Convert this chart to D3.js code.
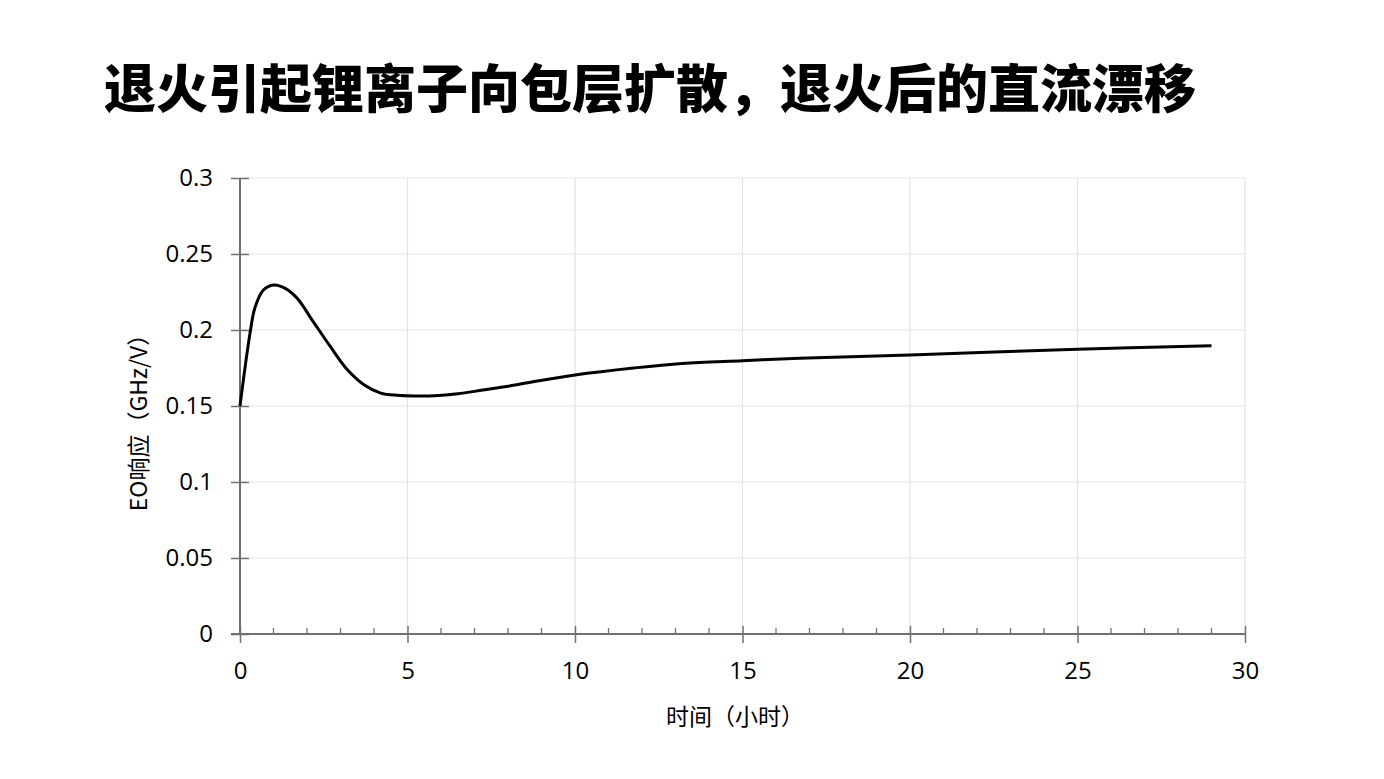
<!DOCTYPE html>
<html><head><meta charset="utf-8">
<script src="https://cdn.jsdelivr.net/npm/d3@7"></script>
<style>
html,body{margin:0;padding:0;background:#fff;}
svg{display:block;}
</style></head>
<body>
<svg id="chart" width="1384" height="779"></svg>
<script>
const title = "退火引起锂离子向包层扩散，退火后的直流漂移";
const xLabel = "时间（小时）";
const yLabel = "EO响应（GHz/V）";
const times = [0, 0.3, 0.45, 0.7, 1.0, 1.35, 1.7, 2.2, 2.7, 3.2, 3.7, 4.2, 4.7, 5.2, 5.8, 6.5, 7.25, 8, 8.75, 10, 11.75, 13.2, 15, 16.7, 20, 25, 29];
const eoResponse = [0.150, 0.198, 0.215, 0.2263, 0.2296, 0.2274, 0.221, 0.205, 0.189, 0.174, 0.164, 0.1585, 0.157, 0.1566, 0.1567, 0.158, 0.1605, 0.163, 0.166, 0.1704, 0.175, 0.178, 0.1798, 0.1814, 0.1836, 0.1873, 0.1897];
const xTicks = [0, 5, 10, 15, 20, 25, 30];
const xMinorTicks = d3.range(0, 31, 1);
const yTicks = [0, 0.05, 0.1, 0.15, 0.2, 0.25, 0.3];
const yTickLabels = ["0", "0.05", "0.1", "0.15", "0.2", "0.25", "0.3"];

const svg = d3.select("#chart");
const L = 240, R = 1245, T = 178, B = 634;
const x = d3.scaleLinear().domain([0, 30]).range([L, R]);
const y = d3.scaleLinear().domain([0, 0.3]).range([B, T]);
const fontCJK = "'Noto Sans CJK SC', 'Noto Sans', sans-serif";
const fontNum = "'Open Sans', 'Noto Sans', sans-serif";

svg.append("text").attr("x", 104).attr("y", 108)
  .attr("font-family", fontCJK).attr("font-weight", 900).attr("font-size", 52)
  .attr("fill", "#000").text(title);

// gridlines
const grid = svg.append("g");
grid.selectAll("line.h").data(yTicks.filter(d => d > 0)).join("line")
  .attr("x1", L).attr("x2", R).attr("y1", d => y(d)).attr("y2", d => y(d))
  .attr("stroke", "#e3e3e3").attr("stroke-width", 1.2);
grid.selectAll("line.v").data(xTicks.filter(d => d > 0)).join("line")
  .attr("y1", T).attr("y2", B).attr("x1", d => x(d)).attr("x2", d => x(d))
  .attr("stroke", "#e3e3e3").attr("stroke-width", 1.2);

// x minor ticks
svg.append("g").selectAll("line").data(xMinorTicks.filter(d => d % 5 !== 0)).join("line")
  .attr("x1", d => x(d)).attr("x2", d => x(d)).attr("y1", B - 6).attr("y2", B)
  .attr("stroke", "#707070").attr("stroke-width", 1.3);

// x axis
const xAxis = svg.append("g").attr("transform", `translate(0,${B})`)
  .call(d3.axisBottom(x).tickValues(xTicks).tickSize(9).tickPadding(19).tickFormat(d3.format("d")));
xAxis.select(".domain").attr("stroke", "#707070").attr("stroke-width", 2);
xAxis.selectAll(".tick line").attr("stroke", "#707070").attr("stroke-width", 1.5).attr("y1", -8);
xAxis.selectAll(".tick text").attr("font-family", fontNum).attr("font-size", 24).attr("fill", "#000");

// y axis
const yAxis = svg.append("g").attr("transform", `translate(${L},0)`)
  .call(d3.axisLeft(y).tickValues(yTicks).tickSize(9).tickPadding(18)
    .tickFormat((d, i) => yTickLabels[i]));
yAxis.select(".domain").attr("stroke", "#707070").attr("stroke-width", 2);
yAxis.selectAll(".tick line").attr("stroke", "#707070").attr("stroke-width", 1.5).attr("x1", 9).attr("x2", -9);
yAxis.selectAll(".tick text").attr("font-family", fontNum).attr("font-size", 24).attr("fill", "#000");
yAxis.selectAll(".domain").attr("d", `M0,${T}V${B}`);
xAxis.selectAll(".domain").attr("d", `M${L - 9},0H${R}`);

// line
const line = d3.line().x((d, i) => x(times[i])).y(d => y(d)).curve(d3.curveCatmullRom.alpha(0.5));
svg.append("path").datum(eoResponse).attr("d", line)
  .attr("fill", "none").attr("stroke", "#000").attr("stroke-width", 3);

// axis titles
svg.append("text").attr("x", 735).attr("y", 725).attr("text-anchor", "middle")
  .attr("font-family", fontCJK).attr("font-size", 23).attr("fill", "#000").text(xLabel);
svg.append("text").attr("transform", "translate(147,417) rotate(-90)").attr("text-anchor", "middle")
  .attr("font-family", fontCJK).attr("font-size", 23).attr("fill", "#000").text(yLabel);
</script>
</body></html>
